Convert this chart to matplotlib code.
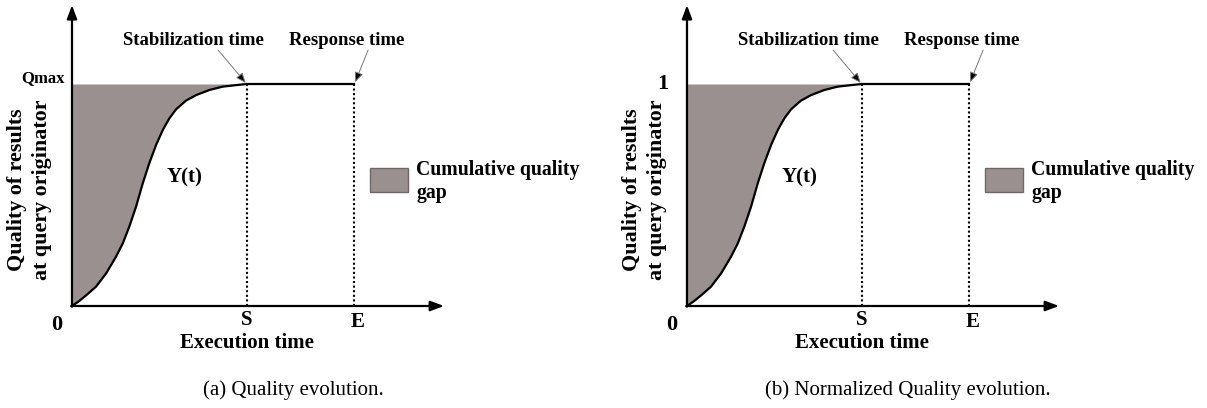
import matplotlib
matplotlib.use("Agg")
import matplotlib.pyplot as plt
from matplotlib.patches import Rectangle

plt.rcParams['font.family'] = ['Liberation Serif', 'DejaVu Serif']

# ---- data (time normalized so that E = 1, quality so that Qmax = 1)
curve_t = [0.000, 0.025, 0.050, 0.085, 0.121, 0.156, 0.180, 0.203, 0.227, 0.251, 0.274,
           0.298, 0.322, 0.345, 0.369, 0.404, 0.440, 0.487, 0.534, 0.582, 0.620]
curve_y = [0.000, 0.022, 0.048, 0.087, 0.147, 0.222, 0.282, 0.357, 0.447, 0.553, 0.643,
           0.725, 0.793, 0.845, 0.886, 0.925, 0.950, 0.973, 0.988, 0.995, 1.000]
stab_time = 0.62
resp_time = 1.0
q_max = 1.0
top_labels = ["Qmax", "1"]
captions = ["(a) Quality evolution.", "(b) Normalized Quality evolution."]
ylabel_lines = ["Quality of results", "at query originator"]
xlabel = "Execution time"
legend_lines = ["Cumulative quality", "gap"]

W, H = 1207, 408
fig = plt.figure(figsize=(W / 100, H / 100), dpi=100)

PX_X = 282.0   # pixels per time unit
PX_Y = 222.0   # pixels per quality unit
origins = [(72, 306), (687, 306)]
ax_w_px, ax_h_px = 380, 306

fill_col = '#9b9090'

for i, (ox, oy) in enumerate(origins):
    ax = fig.add_axes([ox / W, (H - oy) / H, ax_w_px / W, ax_h_px / H])
    ax.set_xlim(0, ax_w_px / PX_X)
    ax.set_ylim(0, ax_h_px / PX_Y)
    ax.axis('off')

    # gap fill
    ax.fill_between(curve_t, curve_y, q_max, color=fill_col, lw=0, zorder=1)
    # curve + plateau
    ax.plot(curve_t, curve_y, color='black', lw=1.6, zorder=3, solid_capstyle='round',
            solid_joinstyle='round')
    ax.plot([stab_time, resp_time], [q_max, q_max], color='black', lw=1.6, zorder=3)
    # dotted verticals
    for t in (stab_time, resp_time):
        ax.plot([t, t], [0, q_max], color='black', lw=1.5, ls=(0, (1, 1.2)), zorder=2)

    # axes arrows
    ax.annotate('', xy=(1.319, 0), xytext=(-0.003, 0), annotation_clip=False,
                arrowprops=dict(arrowstyle='-|>,head_length=0.8,head_width=0.3',
                                color='black', lw=1.6, shrinkA=0, shrinkB=0))
    ax.annotate('', xy=(0, 1.355), xytext=(0, -0.003), annotation_clip=False,
                arrowprops=dict(arrowstyle='-|>,head_length=0.8,head_width=0.3',
                                color='black', lw=1.6, shrinkA=0, shrinkB=0))

    bold = dict(fontweight='bold', ha='center', va='center', clip_on=False)
    # annotations
    ax.text(0.429, 1.194, "Stabilization time", fontsize=13.5, **bold)
    ax.text(0.975, 1.194, "Response time", fontsize=13.5, **bold)
    ax.annotate('', xy=(stab_time - 0.004, q_max + 0.005), xytext=(0.518, 1.153),
                annotation_clip=False,
                arrowprops=dict(arrowstyle='-|>,head_length=0.6,head_width=0.25',
                                ec='#777777', fc='black', lw=0.7, shrinkA=0, shrinkB=0))
    ax.annotate('', xy=(resp_time + 0.004, q_max + 0.008), xytext=(1.05, 1.153),
                annotation_clip=False,
                arrowprops=dict(arrowstyle='-|>,head_length=0.6,head_width=0.25',
                                ec='#777777', fc='black', lw=0.7, shrinkA=0, shrinkB=0))

    # top label (Qmax / 1)
    if i == 0:
        ax.text(-0.103, 1.025, top_labels[i], fontsize=12, **bold)
    else:
        ax.text(-0.085, 1.0, top_labels[i], fontsize=16, **bold)

    ax.text(-0.053, -0.086, "0", fontsize=16, **bold)
    ax.text(stab_time, -0.063, "S", fontsize=15, **bold)
    ax.text(1.014, -0.072, "E", fontsize=15, **bold)
    ax.text(0.62, -0.167, xlabel, fontsize=15, **bold)

    ax.text(-0.195, 0.522, ylabel_lines[0], fontsize=15.8, rotation=90, **bold)
    ax.text(-0.106, 0.522, ylabel_lines[1], fontsize=15.8, rotation=90, **bold)

    ax.text(0.40, 0.58, "Y(t)", fontsize=15, **bold)

    # legend
    ax.add_patch(Rectangle((1.057, 0.514), 0.134, 0.108, fc=fill_col, ec='#6e6868',
                           lw=1.0, clip_on=False))
    ax.text(1.22, 0.613, legend_lines[0], fontsize=14.2, fontweight='bold',
            ha='left', va='center', clip_on=False)
    ax.text(1.22, 0.509, legend_lines[1], fontsize=14.2, fontweight='bold',
            ha='left', va='center', clip_on=False)

    ax.text(0.784, -0.378, captions[i], fontsize=15, ha='center', va='center',
            clip_on=False)

fig.savefig("out.png", dpi=100)
